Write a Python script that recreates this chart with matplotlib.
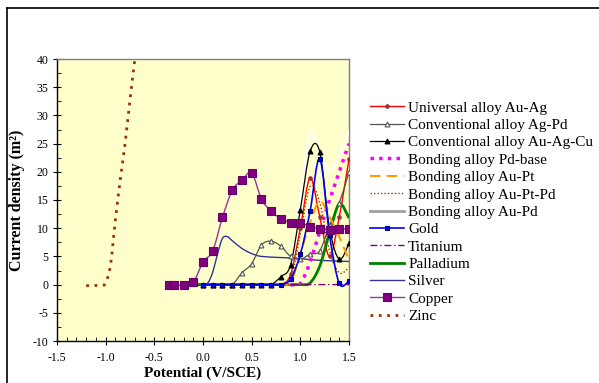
import matplotlib
matplotlib.use("Agg")
import matplotlib.pyplot as plt
import numpy as np
from matplotlib.lines import Line2D
from matplotlib.path import Path
from matplotlib.patches import PathPatch
from matplotlib.ticker import MultipleLocator, FormatStrFormatter

plt.rcParams['font.family'] = ['Liberation Serif', 'DejaVu Serif']
plt.rcParams['axes.unicode_minus'] = False

# ---- data ----
x_step = [0.0, 0.1, 0.2, 0.3, 0.4, 0.5, 0.6, 0.7, 0.8, 0.9, 1.0, 1.1, 1.2, 1.3, 1.4, 1.5]

universal_y = [0, 0, 0, 0, 0, 0, 0, 0, 0, 1.8, 10.0, 18.9, 12.0, 5.0, 12.0, 22.3]
agpd_y      = [0, 0, 0, 0, 2.1, 3.7, 7.0, 7.7, 6.8, 5.0, 4.5, 5.4, 6.0, 10.5, 14.5, 19.9]
auagcu_y    = [0, 0, 0, 0, 0, 0, 0, 0, 1.4, 3.5, 13.3, 23.6, 23.5, 10.0, 4.5, 7.3]

pdbase_x = [0.9, 1.0, 1.1, 1.2, 1.3, 1.4, 1.5]
pdbase_y = [0, 0.2, 4.0, 9.5, 15.0, 20.0, 25.0]

aupt_x = [0.8, 0.9, 1.0, 1.1, 1.2, 1.3, 1.4, 1.5]
aupt_y = [0, 0.4, 5.5, 11.0, 14.8, 12.0, 8.5, 4.3]

auptpd_x = [0.8, 0.9, 1.0, 1.1, 1.2, 1.3, 1.4, 1.5]
auptpd_y = [0, 0.8, 9.0, 17.4, 14.5, 6.0, 2.1, 3.0]

aupd_x = [0.8, 0.9, 1.0, 1.1, 1.2, 1.3, 1.4, 1.5]
aupd_y = [0, 2.0, 15.0, 26.8, 23.5, 20.4, 23.0, 27.3]

gold_y = [0, 0, 0, 0, 0, 0, 0, 0, 0, 1.0, 5.4, 13.0, 22.3, 8.8, 0.2, 0.7]

titanium_x = [0.9, 1.0, 1.1, 1.2, 1.3, 1.4, 1.5]
titanium_y = [0, 0, 0, 0, 0, 0, 0]

palladium_x = [-0.1, 0.0, 0.2, 0.4, 0.6, 0.8, 1.0, 1.1, 1.2, 1.3, 1.4, 1.5]
palladium_y = [0, 0, 0, 0, 0, 0, 0, 0.3, 3.3, 9.2, 14.3, 11.8]

silver_x = [-0.05, 0.0, 0.05, 0.1, 0.15, 0.2, 0.25, 0.3, 0.4, 0.5, 0.6, 0.8, 1.0, 1.2, 1.5]
silver_y = [0, 0, 0.3, 2.2, 5.5, 8.2, 8.5, 7.8, 6.4, 5.5, 5.0, 4.8, 4.6, 4.3, 4.1]

copper_x = [-0.35, -0.3, -0.2, -0.1, 0.0, 0.1, 0.2, 0.3, 0.4, 0.5, 0.6, 0.7, 0.8, 0.9, 1.0, 1.1, 1.2, 1.3, 1.4, 1.5]
copper_y = [-0.1, -0.1, -0.1, 0.4, 4.0, 6.0, 11.9, 16.7, 18.5, 19.8, 15.2, 13.0, 11.7, 11.0, 10.9, 10.3, 9.9, 9.7, 9.8, 9.9]

zinc_x = [-1.2, -1.05, -1.0, -0.95, -0.9, -0.85, -0.8, -0.75, -0.7]
zinc_y = [-0.2, -0.1, 0.3, 3.5, 11.5, 18.6, 25.1, 32.8, 40.0]

labels = ["Universal alloy Au-Ag", "Conventional alloy Ag-Pd", "Conventional alloy Au-Ag-Cu",
          "Bonding alloy Pd-base", "Bonding alloy Au-Pt", "Bonding alloy Au-Pt-Pd",
          "Bonding alloy Au-Pd", "Gold", "Titanium", "Palladium", "Silver", "Copper", "Zinc"]


def smooth_path(x, y):
    """Smoothed (Excel-like) curve through the data points as cubic Bezier segments."""
    p = np.column_stack([x, y]).astype(float)
    n = len(p)
    verts = [p[0]]
    codes = [Path.MOVETO]
    for i in range(n - 1):
        p0 = p[i - 1] if i > 0 else p[i]
        p1, p2 = p[i], p[i + 1]
        p3 = p[i + 2] if i + 2 < n else p[i + 1]
        verts += [p1 + (p2 - p0) / 6.0, p2 - (p3 - p1) / 6.0, p2]
        codes += [Path.CURVE4] * 3
    return Path(verts, codes)


# ---- figure ----
fig = plt.figure(figsize=(5.99, 3.83), dpi=100)
ax = fig.add_axes([57/599, 1-341/383, 292/599, 282/383])
ax.set_facecolor('#FFFFCC')

handles = []


def series(x, y, z, color, lw, ls='-', marker=None, ms=0, mfc=None, mec=None, legcolor=None, leglw=None):
    ax.add_patch(PathPatch(smooth_path(x, y), fill=False, edgecolor=color, lw=lw,
                           linestyle=ls, zorder=z, capstyle='butt'))
    if marker:
        ax.plot(x, y, ls='none', marker=marker, ms=ms, mfc=mfc, mec=mec, mew=0.8, zorder=z + 0.5)
    handles.append(Line2D([], [], color=legcolor or color, lw=leglw or lw, ls=ls,
                          marker=marker, ms=ms, mfc=mfc, mec=mec, mew=0.8))


series(x_step, universal_y, 3, '#FF0000', 1, marker='o', ms=2.5, mfc='#993333', mec='#993333')
series(x_step, agpd_y, 3.1, '#555555', 0.9, marker='^', ms=3.5, mfc='white', mec='#555555')
series(x_step, auagcu_y, 3.2, 'black', 0.9, marker='^', ms=3.5, mfc='black', mec='black')
series(pdbase_x, pdbase_y, 3.3, '#FF00FF', 2.5, ls=(0, (1.0, 1.5)))
series(aupt_x, aupt_y, 3.4, '#FF9900', 1.5, ls=(0, (5, 3)))
series(auptpd_x, auptpd_y, 3.5, '#993300', 1, ls=(0, (1, 1.5)))
series(aupd_x, aupd_y, 2.9, '#FFFFFF', 1.5, legcolor='#A0A0A0', leglw=2)
series(x_step, gold_y, 3.6, '#0000FF', 1.2, marker='s', ms=3.5, mfc='#0000FF', mec='#000066')
series(titanium_x, titanium_y, 3.7, '#800080', 1, ls=(0, (5, 2, 1, 2)))
series(palladium_x, palladium_y, 3.15, '#008000', 2)
series(silver_x, silver_y, 3.05, '#333399', 1)
series(copper_x, copper_y, 3.8, '#993399', 1, marker='s', ms=5.2, mfc='#800080', mec='#660066')
series(zinc_x, zinc_y, 3.9, '#993300', 2, ls=(0, (1, 2)))

ax.set_xlim(-1.5, 1.5)
ax.set_ylim(-10, 40)
ax.xaxis.set_major_locator(MultipleLocator(0.5))
ax.xaxis.set_minor_locator(MultipleLocator(0.1))
ax.yaxis.set_major_locator(MultipleLocator(5))
ax.yaxis.set_minor_locator(MultipleLocator(2.5))
ax.xaxis.set_major_formatter(FormatStrFormatter('%.1f'))
ax.tick_params(which='major', direction='inout', length=6, width=0.8, labelsize=8.5)
ax.tick_params(which='minor', direction='in', length=3, width=0.6)
ax.tick_params(axis='x', which='major', pad=5)
ax.tick_params(axis='y', which='major', pad=3)

for s in ['left', 'bottom']:
    ax.spines[s].set_color('black')
    ax.spines[s].set_linewidth(1)
for s in ['top', 'right']:
    ax.spines[s].set_color('#808080')
    ax.spines[s].set_linewidth(1)

ax.set_xlabel('Potential (V/SCE)', fontsize=11, fontweight='bold', labelpad=2)
ax.set_ylabel('Current density (m²)', fontsize=11.5, fontweight='bold', labelpad=6)

fig.legend(handles=handles, labels=labels, loc='upper left', bbox_to_anchor=(370/599, 1-101/383),
           frameon=False, fontsize=11, handlelength=2.2, handletextpad=0.3,
           labelspacing=0.24, borderaxespad=0, borderpad=0)

# figure frame lines (top and left)
fig.add_artist(Line2D([7/599, 1], [1-8/383, 1-8/383], transform=fig.transFigure, color='black', lw=1.2))
fig.add_artist(Line2D([7/599, 7/599], [0, 1-8/383], transform=fig.transFigure, color='black', lw=1.2))

fig.savefig('out.png', dpi=100, facecolor='white')
